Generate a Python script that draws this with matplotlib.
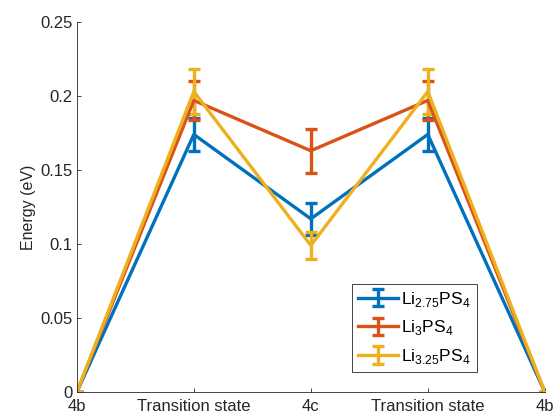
import matplotlib
matplotlib.use("Agg")
import matplotlib.pyplot as plt

plt.rcParams['font.family'] = ['Liberation Sans', 'DejaVu Sans']
plt.rcParams['mathtext.fontset'] = 'custom'
plt.rcParams['mathtext.rm'] = 'Liberation Sans'

sites = ["4b", "Transition state", "4c", "Transition state", "4b"]
x = [1, 2, 3, 4, 5]
labels = [r"Li$_{\mathrm{2.75}}$PS$_{\mathrm{4}}$", r"Li$_{\mathrm{3}}$PS$_{\mathrm{4}}$",
          r"Li$_{\mathrm{3.25}}$PS$_{\mathrm{4}}$"]
colors = ["#0072BD", "#D95319", "#EDB120"]
e_275 = [0, 0.174, 0.117, 0.174, 0]
err_275 = [0, 0.011, 0.011, 0.011, 0]
e_3 = [0, 0.197, 0.163, 0.197, 0]
err_3 = [0, 0.013, 0.015, 0.013, 0]
e_325 = [0, 0.203, 0.099, 0.203, 0]
err_325 = [0, 0.015, 0.009, 0.015, 0]

fig = plt.figure(figsize=(5.57, 4.2), dpi=100)
ax = fig.add_axes([0.138, 0.0667, 0.840, 0.881])

for y, e, c, l in zip([e_275, e_3, e_325], [err_275, err_3, err_325], colors, labels):
    ax.errorbar(x, y, yerr=e, color=c, lw=2.4, elinewidth=2.4, capsize=4.5,
                capthick=2.4, label=l)

ax.set_xlim(1, 5)
ax.set_ylim(0, 0.25)
ax.set_xticks(x)
ax.set_xticklabels(sites)
ax.set_yticks([0, 0.05, 0.1, 0.15, 0.2, 0.25])
ax.set_yticklabels(["0", "0.05", "0.1", "0.15", "0.2", "0.25"])
ax.set_ylabel("Energy (eV)", fontsize=11.5, color="#262626", labelpad=3)
ax.tick_params(direction="in", labelsize=12, colors="#262626", length=3, width=0.6, pad=3)
ax.tick_params(axis="x", pad=5)
for s in ["top", "right"]:
    ax.spines[s].set_visible(False)
for s in ["left", "bottom"]:
    ax.spines[s].set_color("#262626")
    ax.spines[s].set_linewidth(0.6)

leg = ax.legend(loc="lower left", bbox_to_anchor=(352/557, (420-372)/420),
                bbox_transform=fig.transFigure, fancybox=False, framealpha=1,
                edgecolor="#262626", fontsize=12.5, handlelength=2.3,
                borderpad=0.35, labelspacing=0.55, handletextpad=0.2, borderaxespad=0)
leg.get_frame().set_linewidth(0.6)

fig.savefig("out.png", dpi=100)
